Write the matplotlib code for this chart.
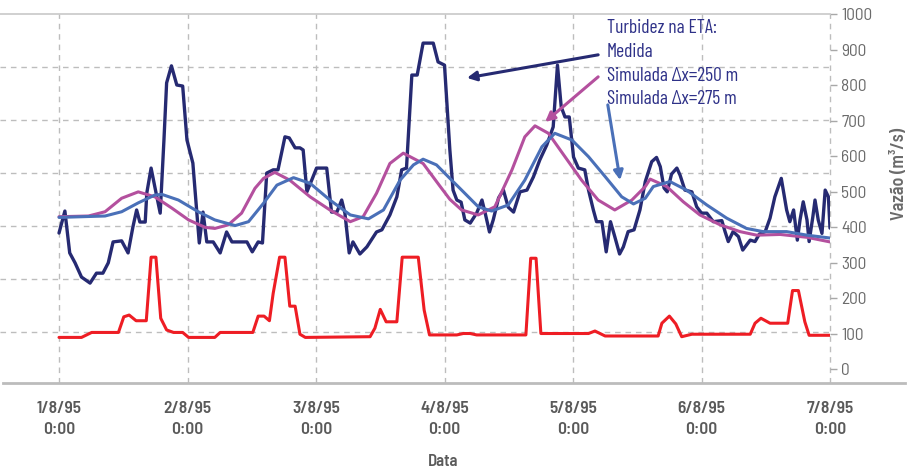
import matplotlib
matplotlib.use("Agg")
import matplotlib.pyplot as plt
from matplotlib import font_manager
from matplotlib.lines import Line2D

# ---------------- data ----------------
x_ticks_h = [0, 24, 48, 72, 96, 120, 144]
x_tick_labels = ["1/8/95\n0:00", "2/8/95\n0:00", "3/8/95\n0:00", "4/8/95\n0:00",
                 "5/8/95\n0:00", "6/8/95\n0:00", "7/8/95\n0:00"]
y_ticks = [0, 100, 200, 300, 400, 500, 600, 700, 800, 900, 1000]

# Turbidez medida (hours since 1/8/95 0:00, value)
med_h = [0, 1.1, 2.0, 3.0, 4.2, 5.8, 7.0, 8.2, 9.2, 10.1, 11.7, 12.9, 13.8, 14.5, 15.1, 16.1,
         16.4, 17.2, 17.9, 18.9, 19.6, 20.1, 21.0, 22.0, 23.1, 23.9, 25.0, 26.2, 26.9, 27.6,
         28.8, 30.1, 31.3, 32.3, 35.1, 36.1, 37.2, 38.0, 38.8, 40.0, 40.9, 42.2, 43.0, 44.1,
         45.0, 45.6, 46.3, 47.2, 48.1, 50.0, 50.9, 51.9, 52.8, 53.4, 54.2, 54.9, 56.2, 57.5,
         59.3, 60.3, 61.8, 63.1, 64.0, 64.9, 65.9, 66.9, 68.0, 69.9, 70.8, 72.0, 73.0, 73.6,
         74.3, 75.1, 75.8, 76.8, 78.0, 79.0, 79.6, 80.4, 81.1, 82.1, 83.0, 83.9, 84.9, 86.1,
         87.4, 88.6, 89.8, 91.1, 92.3, 93.1, 93.8, 94.5, 95.3, 96.1, 97.0, 98.2, 98.9, 99.8,
         100.4, 101.4, 102.2, 103.0, 103.8, 104.7, 105.4, 106.3, 107.4, 108.5, 109.5, 110.7,
         111.6, 112.3, 113.0, 113.6, 114.4, 115.4, 116.0, 116.9, 118.2, 119.1, 120.0, 121.0,
         122.2, 123.8, 124.4, 125.0, 125.9, 126.9, 127.7, 128.4, 129.1, 130.0, 130.8, 131.9,
         132.8, 133.7, 134.9, 135.9, 136.5, 137.2, 137.9, 138.4, 139.0, 139.7, 140.1, 140.8,
         141.2, 141.8, 142.5, 143.1, 143.7, 144.0]
med_v = [383, 445, 327, 299, 259, 242, 270, 270, 299, 358, 361, 327, 400, 448, 414, 414,
         496, 566, 513, 439, 645, 806, 854, 800, 797, 645, 580, 355, 442, 358,
         358, 327, 386, 358, 358, 330, 358, 355, 552, 561, 561, 654, 651, 623,
         623, 617, 499, 532, 566, 566, 442, 442, 476, 439, 327, 358, 324, 344,
         386, 392, 434, 485, 561, 566, 828, 828, 918, 918, 865, 856, 617, 504,
         476, 470, 420, 411, 439, 476, 439, 386, 420, 482, 504, 456, 442, 499,
         504, 541, 589, 631, 682, 856, 738, 710, 710, 597, 566, 561, 504, 448,
         415, 415, 330, 415, 373, 324, 344, 387, 392, 448, 528, 584,
         596, 570, 510, 499, 549, 566, 546, 504, 499, 457, 439, 439,
         415, 418, 387, 359, 387, 373, 335, 349, 363, 359, 380, 387,
         425, 485, 537, 448, 415, 448, 363, 420, 471, 420, 359, 429,
         476, 420, 382, 504, 485, 397]

# Turbidez simulada dx=250 m
s250_h = [0, 5.5, 8.6, 11.7, 14.8, 17.9, 21.1, 24.2, 27.3, 29.1, 31.6, 34.1, 36.6, 38.2,
          40.3, 43.1, 46.9, 50.6, 54.4, 56.8, 59.3, 61.8, 64.3, 68.0, 71.2, 73.0, 75.2,
          78.3, 81.4, 84.6, 87.0, 88.9, 91.4, 94.5, 97.6, 100.7, 103.8, 107.0, 109.5,
          110.4, 113.5, 116.6, 119.7, 123.5, 127.2, 130.3, 134.7, 139.7, 144.0]
s250_v = [429, 431, 443, 481, 499, 485, 453, 420, 399, 396, 406, 439, 509, 537,
          554, 532, 485, 448, 415, 429, 495, 579, 608, 579, 514, 478, 448,
          434, 457, 561, 654, 685, 664, 598, 532, 476, 448, 476, 514,
          535, 514, 471, 434, 406, 387, 377, 379, 371, 358]

# Turbidez simulada dx=275 m
s275_h = [0, 8.6, 11.7, 14.8, 17.9, 19.2, 22.3, 26.0, 29.1, 32.9, 35.4, 38.2, 40.7, 43.8,
          46.9, 50.6, 54.4, 57.8, 60.6, 63.7, 66.2, 68.0, 70.5, 73.0, 75.2, 78.3, 80.8,
          83.9, 87.0, 90.2, 92.6, 95.8, 98.9, 102.0, 105.1, 107.3, 109.5, 111.0, 114.1,
          117.2, 121.0, 124.7, 128.4, 131.5, 135.9, 139.7, 144.0]
s275_v = [427, 431, 443, 468, 490, 492, 476, 443, 420, 404, 415, 467, 518, 539,
          523, 476, 434, 423, 448, 532, 575, 591, 575, 537, 504, 457, 445,
          462, 532, 626, 664, 645, 598, 542, 485, 465, 481, 514, 528,
          504, 462, 425, 396, 387, 387, 377, 369]

# Vazão (m3/s)
vaz_h = [0, 4.2, 6.1, 11.1, 12.1, 13.1, 14.4, 16.3, 17.2, 18.1, 19.0, 20.1, 21.4, 23.1,
         24.2, 29.1, 30.1, 36.2, 37.2, 38.3, 39.3, 40.0, 41.2, 42.2, 43.1, 44.1, 45.0, 46.0,
         58.1, 59.0, 60.0, 61.1, 63.1, 64.1, 67.1, 68.2, 69.2, 74.3, 75.5, 76.8, 78.0,
         87.2, 88.1, 89.1, 90.0, 98.9, 100.1, 102.0, 111.9, 112.6, 114.0, 115.2, 116.3,
         118.2, 129.1, 130.0, 131.1, 132.8, 136.1, 137.0, 138.1, 139.3, 140.1, 144.0]
vaz_v = [89, 89, 103, 103, 147, 152, 136, 136, 315, 315, 143, 110, 103, 103,
         89, 89, 103, 103, 149, 149, 136, 213, 315, 315, 177, 177, 98, 89,
         91, 115, 168, 133, 133, 315, 315, 166, 96, 96, 100, 100, 96,
         96, 312, 312, 100, 100, 107, 93, 93, 129, 149, 127, 91,
         98, 98, 129, 143, 129, 129, 221, 221, 133, 95, 95]

# ---------------- style ----------------
names = {f.name for f in font_manager.fontManager.ttflist}
def pick(*cands):
    for c in cands:
        if c in names:
            return c
    return "DejaVu Sans"
F_COND = pick("Barlow Condensed", "Archivo Narrow", "DejaVu Sans")
F_SEMI = pick("Barlow Semi Condensed", "Barlow Condensed", "DejaVu Sans")
plt.rcParams["font.family"] = [F_COND, "DejaVu Sans"]

NAVY = "#262a72"
MAG = "#b4509e"
BLUE = "#4a70b8"
RED = "#ee1d24"
GRID = "#bdbdbd"
TXT = "#6b6b6b"
ANN = "#2e3188"

W, H = 915, 472
fig = plt.figure(figsize=(W / 100, H / 100), dpi=100)
ax = fig.add_axes([0, (H - 383) / H, 830 / W, (383 - 14) / H])
ax.set_xlim(-11.02, 144)
ax.set_ylim(-39.4, 1000)

for s in ["left", "right", "bottom", "top"]:
    ax.spines[s].set_visible(False)

# grid (steps of the hidden turbidity axis)
for k in range(1, 7):
    ax.axhline(1000 - 149.3 * k, color=GRID, lw=1.0, ls=(0, (4, 3.5)), zorder=0)
for xh in x_ticks_h:
    ax.axvline(xh, color=GRID, lw=1.0, ls=(0, (4, 3.5)), zorder=0, clip_on=False)

kw = dict(solid_joinstyle="round", solid_capstyle="round")
ax.plot(vaz_h, vaz_v, color=RED, lw=2.2, zorder=3, **kw)
ax.plot(med_h, med_v, color=NAVY, lw=2.4, zorder=4, **kw)
ax.plot(s250_h, s250_v, color=MAG, lw=2.2, zorder=5, **kw)
ax.plot(s275_h, s275_v, color=BLUE, lw=2.2, zorder=6, **kw)

# axes decoration
ax.set_xticks(x_ticks_h)
ax.set_xticklabels(x_tick_labels, fontsize=12.5, fontweight="semibold", color="#5a5a5a",
                   linespacing=1.5, family=[F_SEMI, "DejaVu Sans"])
ax.tick_params(axis="x", length=0, pad=13)
ax.yaxis.tick_right()
ax.set_yticks(y_ticks)
ax.set_yticklabels([str(v) for v in y_ticks], fontsize=12.5, color=TXT,
                   family=[F_SEMI, "DejaVu Sans"])
ax.tick_params(axis="y", length=5, width=1, color="#a8a8a8", pad=3)
fig.text(443 / W, 1 - 461 / H, "Data", ha="center", va="center", fontsize=12,
         fontweight="semibold", color="#5a5a5a", family=[F_SEMI, "DejaVu Sans"])
fig.text(900 / W, 1 - 174 / H, "Vazão (m³/s)", rotation=90, ha="center", va="center",
         fontsize=13, fontweight="semibold", color=TXT, family=[F_SEMI, "DejaVu Sans"])

# frame lines
fig.add_artist(Line2D([0, 830 / W], [1 - 14 / H, 1 - 14 / H], color="#c8c8c8", lw=1.2))
fig.add_artist(Line2D([3 / W, 905 / W], [1 - 383 / H, 1 - 383 / H], color="#bcbcbc", lw=2.0))

# annotation
ann_lines = ["Turbidez na ETA:", "Medida", "Simulada Δx=250 m", "Simulada Δx=275 m"]
ann_y = [960, 893, 825, 761]
for t, yv in zip(ann_lines, ann_y):
    ax.text(102.35, yv, t, fontsize=14, color=ANN, ha="left", va="center", zorder=7)

akw = dict(arrowstyle="-|>,head_length=0.55,head_width=0.28", lw=2.2,
           shrinkA=0, shrinkB=0)
ax.annotate("", xy=(76.2, 820), xytext=(100.7, 885),
            arrowprops=dict(color=NAVY, **akw), zorder=8)
ax.annotate("", xy=(90.8, 696), xytext=(100.7, 823),
            arrowprops=dict(color=MAG, **akw), zorder=8)
ax.annotate("", xy=(104.8, 532), xytext=(102.5, 744),
            arrowprops=dict(color=BLUE, **akw), zorder=8)

fig.savefig("out.png", dpi=100)
